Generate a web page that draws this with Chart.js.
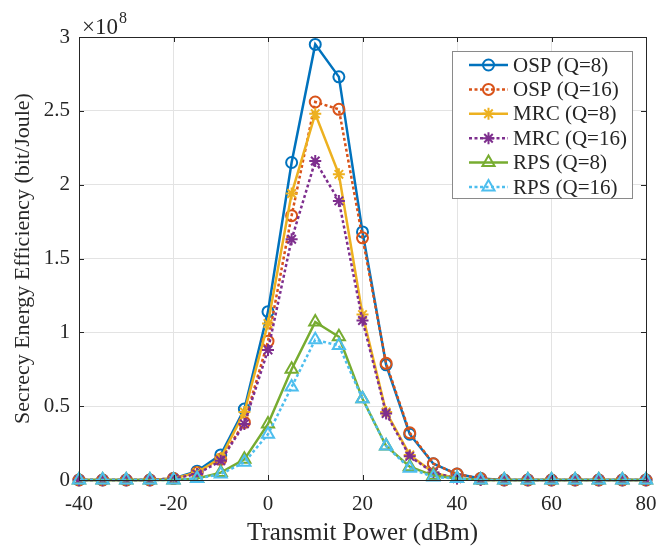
<!DOCTYPE html>
<html>
<head>
<meta charset="utf-8">
<script src="https://cdn.jsdelivr.net/npm/chart.js"></script>
<style>
html,body{margin:0;padding:0;background:#fff;}
canvas{display:block;}
</style>
</head>
<body>
<canvas id="c" width="669" height="548"></canvas>
<script>
// ---- data (values in units of 10^8 bit/Joule) ----
const transmitPower = [-40,-35,-30,-25,-20,-15,-10,-5,0,5,10,15,20,25,30,35,40,45,50,55,60,65,70,75,80];
const ospQ8  = [0,0,0,0,0.01,0.06,0.17,0.48,1.14,2.15,2.95,2.73,1.68,0.78,0.31,0.11,0.04,0.01,0,0,0,0,0,0,0];
const ospQ16 = [0,0,0,0,0.01,0.05,0.14,0.39,0.94,1.79,2.56,2.51,1.64,0.79,0.32,0.11,0.04,0.01,0,0,0,0,0,0,0];
const mrcQ8  = [0,0,0,0,0.01,0.05,0.15,0.46,1.06,1.94,2.48,2.07,1.12,0.46,0.17,0.05,0.01,0,0,0,0,0,0,0,0];
const mrcQ16 = [0,0,0,0,0.01,0.04,0.13,0.38,0.88,1.63,2.16,1.89,1.08,0.45,0.16,0.05,0.01,0,0,0,0,0,0,0,0];
const rpsQ8  = [0,0,0,0,0,0.01,0.05,0.14,0.38,0.75,1.07,0.97,0.55,0.23,0.09,0.03,0.01,0,0,0,0,0,0,0,0];
const rpsQ16 = [0,0,0,0,0,0.01,0.04,0.12,0.31,0.63,0.95,0.91,0.55,0.23,0.08,0.02,0.01,0,0,0,0,0,0,0,0];
const seriesNames = ['OSP (Q=8)','OSP (Q=16)','MRC (Q=8)','MRC (Q=16)','RPS (Q=8)','RPS (Q=16)'];
const xTicks = [-40,-20,0,20,40,60,80];
const yTicks = [0,0.5,1,1.5,2,2.5,3];
const yExponent = '8';

// ---- styles ----
const colors = ['#0072BD','#D95319','#EDB120','#7E2F8E','#77AC30','#4DBEEE'];
const markers = ['circle','circle','star','star','triangle','triangle'];
const radii = [5.5,5.5,6,6,7,7];
const dashed = [false,true,false,true,false,true];
const DASH = [3,2.5];
const SERIF = '"Liberation Serif","Times New Roman",serif';

const allSeries = [ospQ8, ospQ16, mrcQ8, mrcQ16, rpsQ8, rpsQ16];
const datasets = allSeries.map((vals,i)=>({
  label: seriesNames[i],
  data: transmitPower.map((x,k)=>({x:x, y:vals[k]})),
  borderColor: colors[i],
  backgroundColor: colors[i],
  borderWidth: 2.5,
  borderDash: dashed[i] ? DASH : [],
  pointStyle: markers[i],
  pointRadius: radii[i],
  pointHoverRadius: radii[i],
  pointBorderWidth: 2,
  pointBorderColor: colors[i],
  pointBackgroundColor: 'rgba(0,0,0,0)',
  tension: 0,
  fill: false,
  clip: false,
  order: 5 - i
}));

function drawMarker(ctx, style, r, x, y, color){
  ctx.save();
  ctx.strokeStyle = color; ctx.lineWidth = 2; ctx.setLineDash([]);
  ctx.beginPath();
  if (style==='circle'){ ctx.arc(x,y,r,0,Math.PI*2); }
  else if (style==='triangle'){
    ctx.moveTo(x, y - r);
    ctx.lineTo(x + Math.sin(2*Math.PI/3)*r, y - Math.cos(2*Math.PI/3)*r);
    ctx.lineTo(x + Math.sin(4*Math.PI/3)*r, y - Math.cos(4*Math.PI/3)*r);
    ctx.closePath();
  } else if (style==='star'){
    for (let k=0;k<4;k++){
      const ang = k*Math.PI/4;
      ctx.moveTo(x - Math.cos(ang)*r, y - Math.sin(ang)*r);
      ctx.lineTo(x + Math.cos(ang)*r, y + Math.sin(ang)*r);
    }
  }
  ctx.stroke();
  ctx.restore();
}

const framePlugin = {
  id: 'frame',
  afterDraw(chart){
    const {ctx, chartArea:a, scales} = chart;
    ctx.save();
    // inward tick marks
    ctx.strokeStyle = '#262626'; ctx.lineWidth = 1; ctx.setLineDash([]);
    ctx.beginPath();
    xTicks.forEach(v=>{
      const px = Math.round(scales.x.getPixelForValue(v))+0.5;
      ctx.moveTo(px, a.bottom); ctx.lineTo(px, a.bottom-5);
      ctx.moveTo(px, a.top); ctx.lineTo(px, a.top+5);
    });
    yTicks.forEach(v=>{
      const py = Math.round(scales.y.getPixelForValue(v))+0.5;
      ctx.moveTo(a.left, py); ctx.lineTo(a.left+5, py);
      ctx.moveTo(a.right, py); ctx.lineTo(a.right-5, py);
    });
    ctx.stroke();
    // box
    ctx.strokeRect(Math.round(a.left)+0.5, Math.round(a.top)+0.5, Math.round(a.right-a.left), Math.round(a.bottom-a.top));
    // exponent label
    ctx.fillStyle = '#262626';
    ctx.textBaseline = 'alphabetic';
    ctx.textAlign = 'left';
    ctx.font = '23px ' + SERIF;
    ctx.fillText('\u00d710', a.left+3, a.top-3);
    const w = ctx.measureText('\u00d710').width;
    ctx.font = '16px ' + SERIF;
    ctx.fillText(yExponent, a.left+3+w+1, a.top-14);

    // legend
    const lx = 452, ly = 51, lw = 180, lh = 147;
    ctx.fillStyle = '#ffffff';
    ctx.fillRect(lx, ly, lw, lh);
    ctx.strokeStyle = '#8a8a8a';
    ctx.lineWidth = 1;
    ctx.strokeRect(lx+0.5, ly+0.5, lw, lh);
    ctx.font = '21px ' + SERIF;
    ctx.textBaseline = 'middle';
    chart.data.datasets.forEach((ds,i)=>{
      const y = 65 + i*24.4;
      ctx.save();
      ctx.strokeStyle = ds.borderColor;
      ctx.lineWidth = ds.borderWidth;
      ctx.setLineDash(ds.borderDash);
      ctx.beginPath();
      ctx.moveTo(469, y); ctx.lineTo(508, y);
      ctx.stroke();
      ctx.restore();
      drawMarker(ctx, ds.pointStyle, ds.pointRadius, 488.5, y, ds.borderColor);
      ctx.fillStyle = '#262626';
      ctx.fillText(ds.label, 513, y+1);
    });
    ctx.restore();
  }
};

new Chart(document.getElementById('c'), {
  type: 'line',
  data: { datasets },
  options: {
    responsive: false,
    animation: false,
    devicePixelRatio: 1,
    layout: { padding: { left: 0, right: 23, top: 37, bottom: 0 } },
    plugins: { legend: { display: false }, tooltip: { enabled: false } },
    scales: {
      x: {
        type: 'linear', min: -40, max: 80,
        afterBuildTicks: s => { s.ticks = xTicks.map(v=>({value:v})); },
        afterFit: s => { s.height = 68; },
        grid: { color: '#e3e3e3', drawTicks: false },
        border: { color: '#262626', width: 1 },
        ticks: { padding: 12, color: '#262626', font: { family: SERIF, size: 21 }, callback: v => String(v) },
        title: { display: true, text: 'Transmit Power (dBm)', color: '#262626', font: { family: SERIF, size: 25 }, padding: { top: 0, bottom: 0 } }
      },
      y: {
        type: 'linear', min: 0, max: 3,
        afterBuildTicks: s => { s.ticks = yTicks.map(v=>({value:v})); },
        afterFit: s => { s.width = 79; },
        grid: { color: '#e3e3e3', drawTicks: false },
        border: { color: '#262626', width: 1 },
        ticks: { padding: 9, color: '#262626', font: { family: SERIF, size: 21 }, callback: v => String(v) },
        title: { display: true, text: 'Secrecy Energy Efficiency (bit/Joule)', color: '#262626', font: { family: SERIF, size: 22 }, padding: { top: 10, bottom: 0 } }
      }
    }
  },
  plugins: [framePlugin]
});
</script>
</body>
</html>
